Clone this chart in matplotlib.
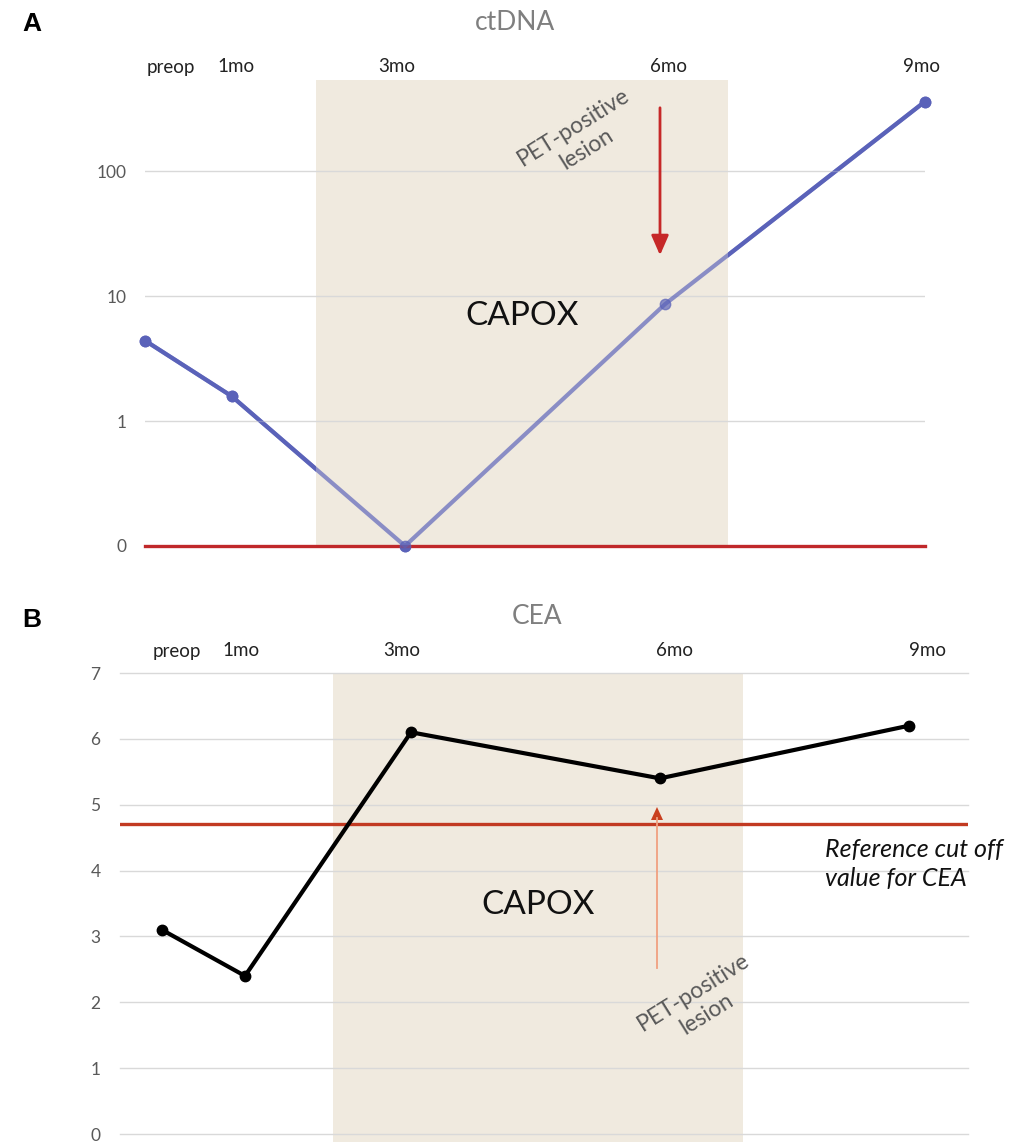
import numpy as np
import matplotlib
matplotlib.use("Agg")
import matplotlib.pyplot as plt

# ---- data ----
timepoints = ["preop", "1mo", "3mo", "6mo", "9mo"]
months = [0, 1, 3, 6, 9]
ctdna = [4.4, 1.58, 0, 8.6, 360]
cea = [3.1, 2.4, 6.1, 5.4, 6.2]
cea_cutoff = 4.7
ctdna_ticks = [0, 1, 10, 100]
cea_ticks = [0, 1, 2, 3, 4, 5, 6, 7]
capox_a = (1.97, 6.73)
capox_b = (2.06, 7.0)

W, H = 1013, 1142
plt.rcParams['font.family'] = ['Lato', 'DejaVu Sans']
fig = plt.figure(figsize=(W / 100, H / 100), dpi=100)

def ax_px(x0, y0, x1, y1):
    return fig.add_axes([x0 / W, 1 - y1 / H, (x1 - x0) / W, (y1 - y0) / H])

def ftext(x, y, s, **kw):
    fig.text(x / W, 1 - y / H, s, **kw)

grid_c = '#d9d9d9'
tick_c = '#595959'
line_a = '#5a62b9'
beige = '#f0eadf'
red = '#c0282a'

# ---- Panel A ----
axA = ax_px(145, 80, 925, 546)
floor = 0.1
ya = np.where(np.array(ctdna) == 0, floor, ctdna)
axA.set_yscale('log')
axA.set_xlim(0, 9)
axA.set_ylim(floor, 535)
axA.plot(months, ya, color=line_a, lw=3, marker='o', ms=7.5, zorder=1.5, clip_on=False)
axA.axvspan(*capox_a, color=beige, lw=0, zorder=2)
for t in ctdna_ticks[1:]:
    axA.axhline(t, color=grid_c, lw=1, zorder=2.5)
axA.plot(months, ya, color=line_a, lw=3, marker='o', ms=7.5, zorder=3, alpha=0.68, clip_on=False)
axA.axhline(floor, color=red, lw=2.4, zorder=2.8, clip_on=False)
axA.set_yticks([floor if t == 0 else t for t in ctdna_ticks])
axA.set_yticklabels([str(t) for t in ctdna_ticks])
axA.minorticks_off()
axA.tick_params(axis='y', length=0, pad=13, labelsize=12.5, labelcolor=tick_c)
axA.set_xticks([])
for s in axA.spines.values():
    s.set_visible(False)

ftext(22, 24, 'A', fontsize=19, fontweight='bold', family='Liberation Sans', ha='left', va='center')
ftext(515, 22, 'ctDNA', fontsize=19, color='#7f7f7f', ha='center', va='center')
for lab, x in zip(timepoints, [171, 236, 397, 668, 922]):
    ftext(x, 67, lab, fontsize=13.5, color='#222222', ha='center', va='center')
ftext(522, 316, 'CAPOX', fontsize=24, color='#111111', ha='center', va='center')
ftext(580, 138, 'PET-positive\nlesion', fontsize=16.5, color='#595959', ha='center', va='center',
      rotation=32, linespacing=1.3)
fig.add_artist(matplotlib.patches.FancyArrowPatch((660 / W, 1 - 105 / H), (660 / W, 1 - 258 / H),
               transform=fig.transFigure, arrowstyle='-|>,head_length=8,head_width=3.5',
               color='#c62828', lw=2.0, mutation_scale=1.5))

# ---- Panel B ----
axB = ax_px(120, 673, 968, 1142)
px0, ppm = 162, 83.0
axB.set_xlim((120 - px0) / ppm, (968 - px0) / ppm)
axB.set_ylim(-8 / 65.9, 7)
axB.axvspan(*capox_b, color=beige, lw=0, zorder=0)
for t in cea_ticks:
    axB.axhline(t, color=grid_c, lw=1, zorder=1, clip_on=False)
axB.axhline(cea_cutoff, color='#c23a22', lw=2.4, zorder=2)
axB.plot(months, cea, color='black', lw=3, marker='o', ms=7.5, zorder=3)
axB.set_yticks(cea_ticks)
axB.tick_params(axis='y', length=0, pad=14, labelsize=12.5, labelcolor=tick_c)
axB.set_xticks([])
for s in axB.spines.values():
    s.set_visible(False)

ftext(22, 620, 'B', fontsize=19, fontweight='bold', family='Liberation Sans', ha='left', va='center')
ftext(537, 617, 'CEA', fontsize=19, color='#7f7f7f', ha='center', va='center')
for lab, x in zip(timepoints, [177, 241, 402, 674, 927]):
    ftext(x, 651, lab, fontsize=13.5, color='#222222', ha='center', va='center')
ftext(538, 905, 'CAPOX', fontsize=24, color='#111111', ha='center', va='center')
ftext(700, 1003, 'PET-positive\nlesion', fontsize=16.5, color='#595959', ha='center', va='center',
      rotation=32, linespacing=1.3)
ftext(825, 864, 'Reference cut off\nvalue for CEA', fontsize=18, style='italic', color='#111111',
      ha='left', va='center', linespacing=1.35)
fig.add_artist(matplotlib.lines.Line2D([657 / W, 657 / W], [1 - 968 / H, 1 - 818 / H],
               transform=fig.transFigure, color='#f0a080', lw=1.3))
fig.add_artist(matplotlib.patches.Polygon([[651 / W, 1 - 820 / H], [663 / W, 1 - 820 / H], [657 / W, 1 - 807 / H]],
               closed=True, transform=fig.transFigure, color='#c9401f', lw=0))

fig.savefig('out.png', dpi=100)
